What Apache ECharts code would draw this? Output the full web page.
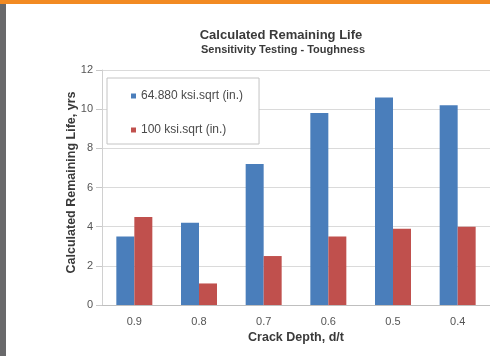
<!DOCTYPE html>
<html>
<head>
<meta charset="utf-8">
<script src="https://cdn.jsdelivr.net/npm/echarts@6/dist/echarts.min.js"></script>
<style>
html,body{margin:0;padding:0;background:#fff;}
#wrap{position:relative;width:490px;height:356px;overflow:hidden;background:#fff;}
#topbar{position:absolute;left:0;top:0;width:490px;height:4px;background:#f28a22;}
#side{position:absolute;left:0;top:4px;width:6px;height:352px;background:#69696b;}
#chart{position:absolute;left:0;top:0;width:490px;height:356px;}
</style>
</head>
<body>
<div id="wrap">
<div id="chart"></div>
<div id="topbar"></div>
<div id="side"></div>
</div>
<script>
var categories = ['0.9', '0.8', '0.7', '0.6', '0.5', '0.4'];
var series1Name = '64.880 ksi.sqrt (in.)';
var series2Name = '100 ksi.sqrt (in.)';
var series1 = [3.5, 4.2, 7.2, 9.8, 10.6, 10.2];
var series2 = [4.5, 1.1, 2.5, 3.5, 3.9, 4.0];
var chartTitle = 'Calculated Remaining Life';
var chartSubtitle = 'Sensitivity Testing - Toughness';
var yAxisName = 'Calculated Remaining Life, yrs';
var xAxisName = 'Crack Depth, d/t';

var chart = echarts.init(document.getElementById('chart'), null, {renderer: 'canvas'});
var font = 'Arial, "Liberation Sans", sans-serif';
chart.setOption({
  backgroundColor: '#fff',
  animation: false,
  title: [
    {text: chartTitle, left: 276, top: 24, textAlign: 'center',
     textStyle: {fontFamily: font, fontSize: 13, fontWeight: 'bold', color: '#3a3a3a'}},
    {text: chartSubtitle, left: 278, top: 39, textAlign: 'center',
     textStyle: {fontFamily: font, fontSize: 11, fontWeight: 'bold', color: '#3a3a3a'}}
  ],
  legend: {
    orient: 'vertical',
    left: 107, top: 78,
    padding: [12, 16, 8, 24],
    itemGap: 22,
    itemWidth: 5, itemHeight: 5,
    icon: 'rect',
    borderColor: '#c4c4c4', borderWidth: 1,
    backgroundColor: '#fff',
    textStyle: {fontFamily: font, fontSize: 12, color: '#4a4a4a'},
    data: [series1Name, series2Name]
  },
  grid: {left: 102, right: 0, top: 70, bottom: 51, containLabel: false},
  xAxis: {
    type: 'category',
    data: categories,
    name: xAxisName,
    nameLocation: 'middle',
    nameGap: 26,
    nameMoveOverlap: false,
    nameTextStyle: {fontFamily: font, fontSize: 12.5, fontWeight: 'bold', color: '#3a3a3a'},
    axisLine: {lineStyle: {color: '#bfbfbf'}},
    axisTick: {show: false},
    axisLabel: {fontFamily: font, fontSize: 11, color: '#555', margin: 11}
  },
  yAxis: {
    type: 'value',
    min: 0, max: 12, interval: 2,
    name: yAxisName,
    nameLocation: 'middle',
    nameGap: 24,
    nameMoveOverlap: false,
    nameTextStyle: {fontFamily: font, fontSize: 12.5, fontWeight: 'bold', color: '#3a3a3a', padding: [0, 0, 0, 10]},
    axisLine: {show: true, lineStyle: {color: '#d0d0d0'}},
    axisTick: {show: true, length: 6, lineStyle: {color: '#c8c8c8'}},
    axisLabel: {fontFamily: font, fontSize: 11, color: '#555', margin: 9},
    splitLine: {lineStyle: {color: '#dadada'}}
  },
  series: [
    {name: series1Name, type: 'bar', data: series1, barWidth: 18, barGap: '0%',
     itemStyle: {color: '#4a7ebb'}},
    {name: series2Name, type: 'bar', data: series2, barWidth: 18, barGap: '0%',
     itemStyle: {color: '#c0504d'}}
  ]
});
</script>
</body>
</html>
